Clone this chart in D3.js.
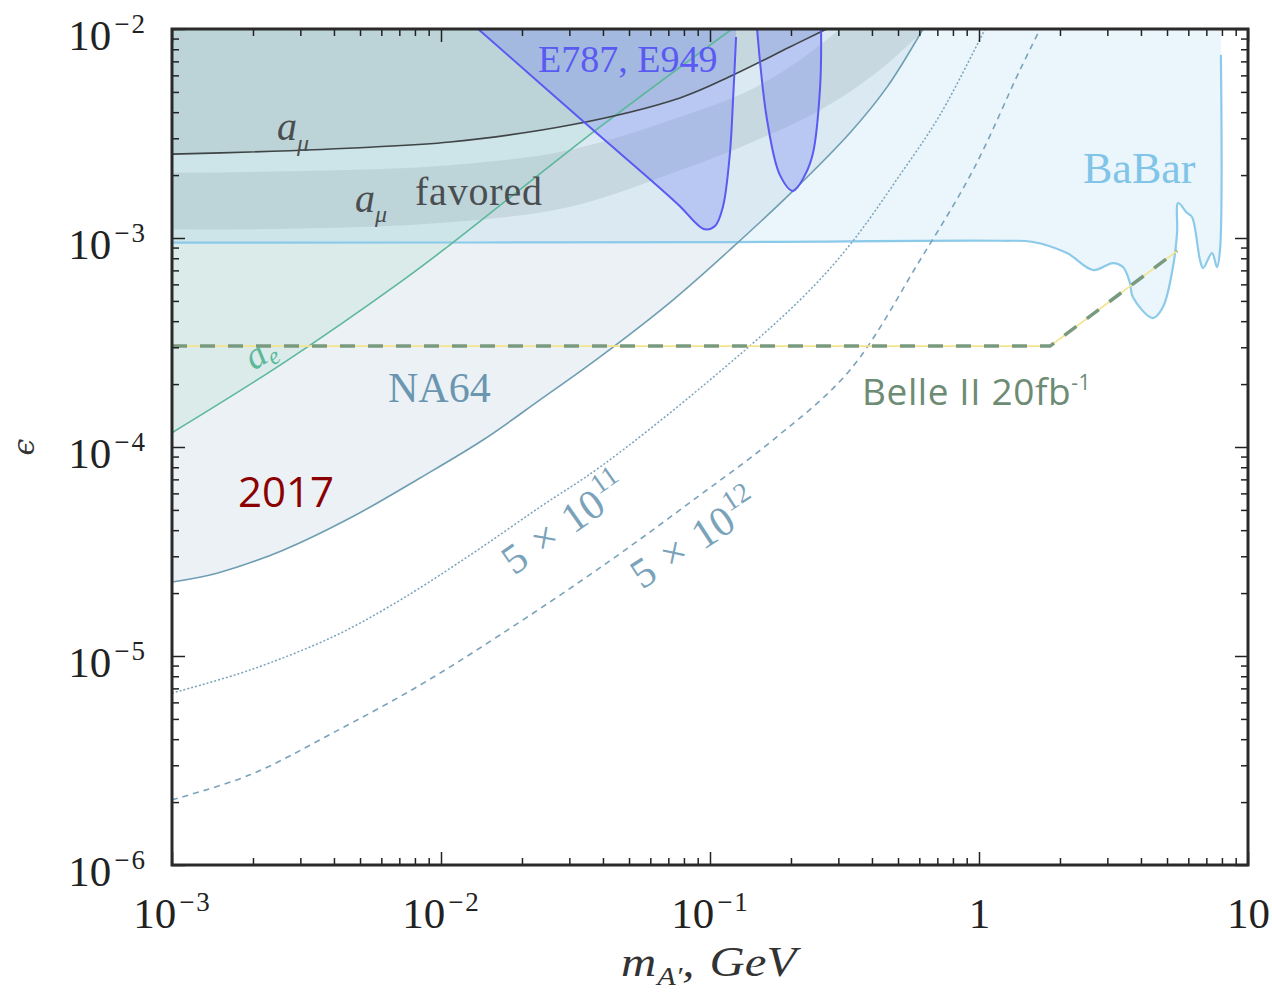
<!DOCTYPE html>
<html>
<head>
<meta charset="utf-8">
<script src="https://cdn.jsdelivr.net/npm/d3@7"></script>
<style>
  body { margin: 0; background: #fff; }
  svg { display: block; }
</style>
</head>
<body>
<svg id="chart" width="1272" height="992"></svg>
<script>
// ---- Axis ticks ----------------------------------------------------------
const massTicks = [1e-3, 1e-2, 1e-1, 1, 10];
const massTickLabels = [["10", "\u22123"], ["10", "\u22122"], ["10", "\u22121"], ["1", ""], ["10", ""]];
const epsTicks = [1e-6, 1e-5, 1e-4, 1e-3, 1e-2];
const epsTickLabels = [["10", "\u22126"], ["10", "\u22125"], ["10", "\u22124"], ["10", "\u22123"], ["10", "\u22122"]];

// ---- Curves: [mass in GeV, epsilon] --------------------------------------
// muon g-2 exclusion boundary
const amuLine = [[0.001, 2.52e-3], [0.00195, 2.58e-3], [0.00545, 2.72e-3], [0.0108, 2.88e-3],
  [0.0302, 3.47e-3], [0.0773, 4.68e-3], [0.1218, 6.02e-3], [0.198, 8.20e-3], [0.262, 9.78e-3],
  [0.272, 1e-2]];
// muon g-2 favoured band, upper and lower edges
const amuBandUpper = [[0.001, 2.05e-3], [0.00299, 2.09e-3], [0.0108, 2.23e-3], [0.0302, 2.64e-3],
  [0.0773, 3.79e-3], [0.141, 5.11e-3], [0.216, 7.11e-3], [0.304, 1e-2]];
const amuBandLower = [[0.001, 1.10e-3], [0.00299, 1.11e-3], [0.0108, 1.19e-3], [0.0302, 1.41e-3],
  [0.0773, 2.11e-3], [0.141, 2.85e-3], [0.2566, 4.09e-3], [0.428, 6.37e-3], [0.630, 1e-2]];
// electron g-2
const aeLine = [[0.001, 1.17e-4], [0.00259, 2.52e-4], [0.00723, 6.29e-4], [0.0108, 9.27e-4],
  [0.039, 3.40e-3], [0.1208, 1e-2]];
// NA64 (2017)
const na64Line = [[0.001, 2.26e-5], [0.00147, 2.49e-5], [0.00259, 3.21e-5], [0.00459, 4.57e-5],
  [0.00836, 7.11e-5], [0.01432, 1.08e-4], [0.02333, 1.68e-4], [0.039, 2.70e-4], [0.0728, 5.05e-4],
  [0.1218, 9.06e-4], [0.2036, 1.68e-3], [0.331, 3.18e-3], [0.455, 5.27e-3], [0.619, 1e-2]];
// E787 / E949 kaon decay regions
const e787Left = [[0.01374, 1e-2], [0.034, 3.59e-3], [0.0773, 1.42e-3], [0.0879, 1.19e-3],
  [0.0958, 1.10e-3], [0.1044, 1.14e-3], [0.1117, 1.41e-3], [0.1186, 2.55e-3], [0.1218, 4.57e-3],
  [0.125, 9.16e-3]];
const e787Right = [[0.1496, 1e-2], [0.163, 3.67e-3], [0.182, 2.00e-3], [0.2036, 1.68e-3],
  [0.2254, 2.00e-3], [0.2415, 2.55e-3], [0.2566, 5.27e-3], [0.2588, 1e-2]];
// BaBar
const babarLine = [[0.001, 9.5e-4], [0.1, 9.55e-4], [1.197, 9.7e-4], [1.588, 9.57e-4],
  [2.124, 8.47e-4], [2.654, 7.03e-4], [3.148, 7.59e-4], [3.43, 7.26e-4], [3.64, 6.10e-4],
  [3.73, 5.22e-4], [4.43, 4.14e-4], [4.83, 4.68e-4], [5.26, 7.26e-4], [5.45, 1.06e-3],
  [5.50, 1.47e-3], [5.93, 1.32e-3], [6.19, 1.26e-3], [6.63, 7.85e-4], [6.81, 7.18e-4],
  [7.35, 8.47e-4], [7.67, 7.26e-4], [7.87, 8.77e-4], [7.93, 7.52e-3]];
// beam-dump projections, 5e11 and 5e12 electrons on target
const proj5e11 = [[0.001, 6.65e-6], [0.00195, 8.57e-6], [0.00404, 1.25e-5], [0.00704, 1.85e-5],
  [0.01283, 3.04e-5], [0.02333, 5.16e-5], [0.039, 8.02e-5], [0.0918, 1.91e-4], [0.216, 5.05e-4],
  [0.331, 9.27e-4], [0.508, 2.00e-3], [0.716, 3.88e-3], [1.053, 1e-2]];
const proj5e12 = [[0.001, 2.05e-6], [0.00195, 2.70e-6], [0.00397, 4.29e-6], [0.00836, 7.26e-6],
  [0.01656, 1.26e-5], [0.0414, 2.79e-5], [0.0918, 5.89e-5], [0.1714, 1.08e-4], [0.331, 2.33e-4],
  [0.604, 7.85e-4], [0.950, 2.11e-3], [1.42, 6.37e-3], [1.687, 1e-2]];
// Belle II 20 fb^-1 projection
const belle2Line = [[0.001, 3.04e-4], [1.837, 3.04e-4], [5.45, 8.67e-4]];

// ---- Layout --------------------------------------------------------------
const plot = { left: 172, right: 1248, top: 29, bottom: 865 };
const x = d3.scaleLog().domain([1e-3, 10]).range([plot.left, plot.right]);
const y = d3.scaleLog().domain([1e-6, 1e-2]).range([plot.bottom, plot.top]);
const serif = "Liberation Serif, Times New Roman, serif";
const sans = "Open Sans, Liberation Sans, sans-serif";

const svg = d3.select("#chart");
svg.append("defs").append("clipPath").attr("id", "plotClip")
  .append("rect").attr("x", plot.left).attr("y", plot.top)
  .attr("width", plot.right - plot.left).attr("height", plot.bottom - plot.top);

const smooth = d3.line().x(d => x(d[0])).y(d => y(d[1])).curve(d3.curveCatmullRom.alpha(0.5));
const straight = d3.line().x(d => x(d[0])).y(d => y(d[1]));

// region between a curve and the top edge of the plot
function areaAbove(pts) {
  const top = y.range()[1];
  return smooth(pts) + `L${x(pts[pts.length - 1][0])},${top}L${x(pts[0][0])},${top}Z`;
}
function areaBetween(upper, lower) {
  return smooth(upper) + smooth(lower.slice().reverse()).replace(/^M/, "L") + "Z";
}

const g = svg.append("g").attr("clip-path", "url(#plotClip)");

// ---- Filled regions ------------------------------------------------------
g.append("path").attr("d", areaAbove(babarLine)).attr("fill", "#d8eef8").attr("fill-opacity", 0.55);
g.append("path").attr("d", areaAbove(na64Line)).attr("fill", "#aec6d6").attr("fill-opacity", 0.25);
g.append("path").attr("d", areaAbove(aeLine)).attr("fill", "#7fc7b0").attr("fill-opacity", 0.15);
g.append("path").attr("d", areaBetween(amuBandUpper, amuBandLower)).attr("fill", "#8fa5ab").attr("fill-opacity", 0.25);
g.append("path").attr("d", areaAbove(amuLine)).attr("fill", "#8fa5ab").attr("fill-opacity", 0.27);
g.append("path").attr("d", areaAbove(e787Left)).attr("fill", "#6b7cf2").attr("fill-opacity", 0.3);
g.append("path").attr("d", areaAbove(e787Right)).attr("fill", "#6b7cf2").attr("fill-opacity", 0.3);

// ---- Boundary lines ------------------------------------------------------
const stroke = (pts, color, width, dash) => {
  const p = g.append("path").attr("d", smooth(pts)).attr("fill", "none")
    .attr("stroke", color).attr("stroke-width", width);
  if (dash) p.attr("stroke-dasharray", dash);
  return p;
};
stroke(babarLine, "#8ccaea", 2.2);
stroke(na64Line, "#6f9db2", 1.6);
stroke(aeLine, "#5cb89a", 1.6);
stroke(amuLine, "#3f4446", 1.6);
stroke(e787Left, "#5a5af2", 2);
stroke(e787Right, "#5a5af2", 2);
stroke(proj5e11, "#7aa3bb", 1.5, "2,2");
stroke(proj5e12, "#7aa3bb", 1.6, "6,5");

// ---- In-plot labels ------------------------------------------------------
function mathLabel(parent, px, py, color, size, parts, rotate) {
  const t = parent.append("text")
    .attr("transform", `translate(${px},${py})` + (rotate ? ` rotate(${rotate})` : ""))
    .attr("fill", color).attr("font-family", serif).attr("font-size", size);
  parts.forEach(p => {
    const s = t.append("tspan").text(p.t);
    if (p.size) s.attr("font-size", p.size);
    if (p.dy) s.attr("dy", p.dy);
    if (p.dx) s.attr("dx", p.dx);
    if (p.italic) s.attr("font-style", "italic");
  });
  return t;
}

mathLabel(svg, 277, 140, "#4a4e50", 40, [{ t: "a", italic: true }, { t: "\u03bc", italic: true, size: 24, dy: 11 }]);
mathLabel(svg, 355, 212, "#4a4e50", 40, [{ t: "a", italic: true }, { t: "\u03bc", italic: true, size: 24, dy: 10 }]);
svg.append("text").attr("x", 415).attr("y", 205).attr("fill", "#4a4e50")
  .attr("font-family", serif).attr("font-size", 40).attr("letter-spacing", 0.8).text("favored");

svg.append("text").attr("x", 538).attr("y", 72).attr("fill", "#5a5af2")
  .attr("font-family", serif).attr("font-size", 38).text("E787, E949");

svg.append("text").attr("x", 1083).attr("y", 183).attr("fill", "#80c4e8")
  .attr("font-family", serif).attr("font-size", 44).text("BaBar");

svg.append("text").attr("x", 388).attr("y", 402).attr("fill", "#6a96b0")
  .attr("font-family", serif).attr("font-size", 42).text("NA64");

mathLabel(svg, 254, 371, "#5cb89a", 38, [{ t: "a", italic: true }, { t: "e", italic: true, size: 24, dy: 6 }], -33);

mathLabel(svg, 514, 576, "#7aa3bb", 42, [{ t: "5" }, { t: "\u00d7", dx: 14 }, { t: "10", dx: 14 },
  { t: "11", size: 28, dx: 1, dy: -18 }], -35);
mathLabel(svg, 642, 590, "#7aa3bb", 42, [{ t: "5" }, { t: "\u00d7", dx: 14 }, { t: "10", dx: 14 },
  { t: "12", size: 28, dx: 1, dy: -18 }], -33);

svg.append("text").attr("x", 238).attr("y", 507).attr("fill", "#8b0000")
  .attr("font-family", sans).attr("font-size", 42).text("2017");

// Belle II projection: thin yellow line under a thick dashed one
const belle = svg.append("g").attr("clip-path", "url(#plotClip)");
belle.append("path").attr("d", straight(belle2Line)).attr("fill", "none")
  .attr("stroke", "#f4e38c").attr("stroke-width", 1.6);
belle.append("path").attr("d", straight(belle2Line)).attr("fill", "none")
  .attr("stroke", "#7a9a80").attr("stroke-width", 3.5).attr("stroke-dasharray", "15,13");

const belleText = svg.append("text").attr("x", 862).attr("y", 405).attr("fill", "#6e8b74")
  .attr("font-family", sans).attr("font-size", 37).attr("letter-spacing", 0.6);
belleText.append("tspan").text("Belle II 20fb");
belleText.append("tspan").attr("font-size", 21).attr("dy", -15).text("-1");

// ---- Axes ----------------------------------------------------------------
const minorMass = [];
for (let e = -3; e < 1; e++) for (let k = 2; k <= 9; k++) minorMass.push(k * Math.pow(10, e));
const minorEps = [];
for (let e = -6; e < -2; e++) for (let k = 2; k <= 9; k++) minorEps.push(k * Math.pow(10, e));

function drawAxis(axisFn, scale, ticks, size, transform) {
  const a = svg.append("g").attr("transform", transform)
    .call(axisFn(scale).tickValues(ticks).tickSize(-size).tickSizeOuter(0).tickFormat(""));
  a.select(".domain").remove();
  a.selectAll(".tick line").attr("stroke", "#222").attr("stroke-width", 1.5);
  return a;
}
const xb = drawAxis(d3.axisBottom, x, massTicks, 13, `translate(0,${plot.bottom})`);
drawAxis(d3.axisBottom, x, minorMass, 7, `translate(0,${plot.bottom})`);
drawAxis(d3.axisTop, x, massTicks, 13, `translate(0,${plot.top})`);
drawAxis(d3.axisTop, x, minorMass, 7, `translate(0,${plot.top})`);
const yl = drawAxis(d3.axisLeft, y, epsTicks, 13, `translate(${plot.left},0)`);
drawAxis(d3.axisLeft, y, minorEps, 7, `translate(${plot.left},0)`);
drawAxis(d3.axisRight, y, epsTicks, 13, `translate(${plot.right},0)`);
drawAxis(d3.axisRight, y, minorEps, 7, `translate(${plot.right},0)`);

xb.selectAll(".tick").each(function (d, i) {
  const [base, exp] = massTickLabels[i];
  const t = d3.select(this).append("text").attr("y", 63).attr("fill", "#222")
    .attr("font-family", serif).attr("font-size", 43).attr("text-anchor", "middle");
  t.append("tspan").text(base);
  if (exp) t.append("tspan").attr("font-size", 27).attr("dx", 3).attr("dy", -17)
    .attr("letter-spacing", 2).text(exp);
});
yl.selectAll(".tick").each(function (d, i) {
  const [base, exp] = epsTickLabels[i];
  const t = d3.select(this).append("text").attr("x", -25).attr("y", 20).attr("fill", "#222")
    .attr("font-family", serif).attr("font-size", 43).attr("text-anchor", "end");
  t.append("tspan").text(base);
  t.append("tspan").attr("font-size", 27).attr("dx", 3).attr("dy", -17)
    .attr("letter-spacing", 2).text(exp);
});

// plot frame
svg.append("rect").attr("x", plot.left).attr("y", plot.top)
  .attr("width", plot.right - plot.left).attr("height", plot.bottom - plot.top)
  .attr("fill", "none").attr("stroke", "#2a2a2a").attr("stroke-width", 3);

// axis titles
const xt = svg.append("text").attr("transform", "translate(621,976) scale(1.16,1)").attr("fill", "#333")
  .attr("font-family", serif).attr("font-size", 42).attr("font-style", "italic");
xt.append("tspan").text("m");
xt.append("tspan").attr("font-size", 26).attr("dx", 1).attr("dy", 9).text("A\u2032");
xt.append("tspan").attr("dy", -9).text(",");
xt.append("tspan").attr("dx", 13).text("GeV");

svg.append("text").attr("transform", "translate(34,447) rotate(-90)").attr("fill", "#333")
  .attr("font-family", "DejaVu Serif, serif").attr("font-size", 30).attr("font-style", "italic")
  .attr("text-anchor", "middle").text("\u03f5");
</script>
</body>
</html>
